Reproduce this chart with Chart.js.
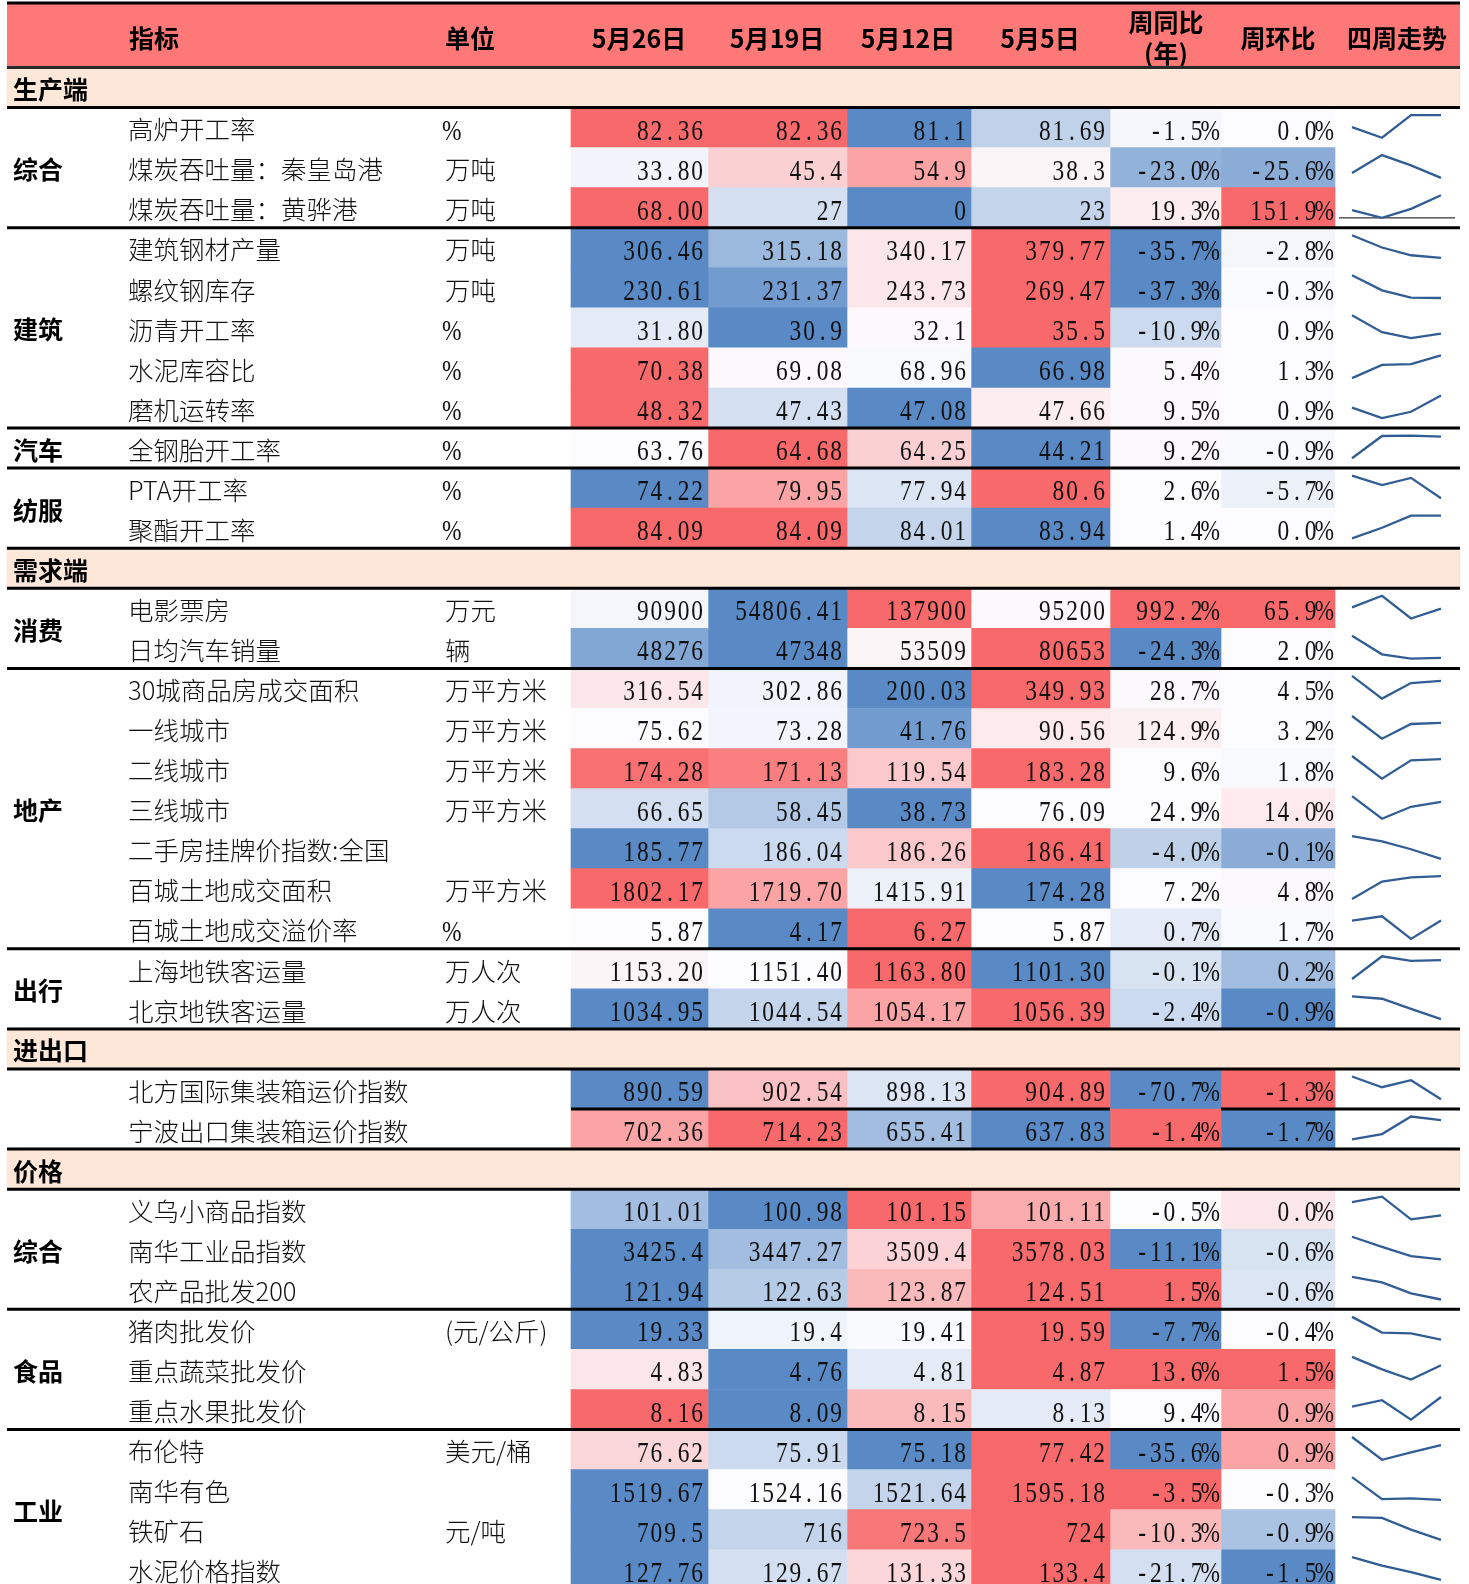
<!DOCTYPE html>
<html>
<head>
<meta charset="utf-8">
<script src="https://cdn.jsdelivr.net/npm/chart.js@4.4.1/dist/chart.umd.min.js"></script>
<style>
  html, body { margin: 0; padding: 0; background: #fff; }
  canvas { display: block; }
</style>
</head>
<body>
<canvas id="table" width="1469" height="1584"></canvas>
<script>
// ---- data ----
const headers = ['指标', '单位', '5月26日', '5月19日', '5月12日', '5月5日', '周同比', '周环比', '四周走势'];

const sectionNames = ['生产端', '需求端', '进出口', '价格'];
const sectionRows = [0, 12, 24, 27];

const groupNames = ['综合', '建筑', '汽车', '纺服', '消费', '地产', '出行', '', '综合', '食品', '工业'];
const groupSizes = [3, 5, 1, 2, 2, 7, 2, 2, 3, 3, 4];

const indicators = [
  '高炉开工率', '煤炭吞吐量：秦皇岛港', '煤炭吞吐量：黄骅港',
  '建筑钢材产量', '螺纹钢库存', '沥青开工率', '水泥库容比', '磨机运转率',
  '全钢胎开工率', 'PTA开工率', '聚酯开工率',
  '电影票房', '日均汽车销量',
  '30城商品房成交面积', '一线城市', '二线城市', '三线城市', '二手房挂牌价指数:全国', '百城土地成交面积', '百城土地成交溢价率',
  '上海地铁客运量', '北京地铁客运量',
  '北方国际集装箱运价指数', '宁波出口集装箱运价指数',
  '义乌小商品指数', '南华工业品指数', '农产品批发200',
  '猪肉批发价', '重点蔬菜批发价', '重点水果批发价',
  '布伦特', '南华有色', '铁矿石', '水泥价格指数'
];

const units = [
  '%', '万吨', '万吨',
  '万吨', '万吨', '%', '%', '%',
  '%', '%', '%',
  '万元', '辆',
  '万平方米', '万平方米', '万平方米', '万平方米', '', '万平方米', '%',
  '万人次', '万人次',
  '', '',
  '', '', '',
  '(元/公斤)', '', '',
  '美元/桶', '', '元/吨', ''
];

const may26 = ['82.36', '33.80', '68.00', '306.46', '230.61', '31.80', '70.38', '48.32', '63.76', '74.22', '84.09',
  '90900', '48276', '316.54', '75.62', '174.28', '66.65', '185.77', '1802.17', '5.87', '1153.20', '1034.95',
  '890.59', '702.36', '101.01', '3425.4', '121.94', '19.33', '4.83', '8.16', '76.62', '1519.67', '709.5', '127.76'];
const may19 = ['82.36', '45.4', '27', '315.18', '231.37', '30.9', '69.08', '47.43', '64.68', '79.95', '84.09',
  '54806.41', '47348', '302.86', '73.28', '171.13', '58.45', '186.04', '1719.70', '4.17', '1151.40', '1044.54',
  '902.54', '714.23', '100.98', '3447.27', '122.63', '19.4', '4.76', '8.09', '75.91', '1524.16', '716', '129.67'];
const may12 = ['81.1', '54.9', '0', '340.17', '243.73', '32.1', '68.96', '47.08', '64.25', '77.94', '84.01',
  '137900', '53509', '200.03', '41.76', '119.54', '38.73', '186.26', '1415.91', '6.27', '1163.80', '1054.17',
  '898.13', '655.41', '101.15', '3509.4', '123.87', '19.41', '4.81', '8.15', '75.18', '1521.64', '723.5', '131.33'];
const may05 = ['81.69', '38.3', '23', '379.77', '269.47', '35.5', '66.98', '47.66', '44.21', '80.6', '83.94',
  '95200', '80653', '349.93', '90.56', '183.28', '76.09', '186.41', '174.28', '5.87', '1101.30', '1056.39',
  '904.89', '637.83', '101.11', '3578.03', '124.51', '19.59', '4.87', '8.13', '77.42', '1595.18', '724', '133.4'];
const yoy = ['-1.5%', '-23.0%', '19.3%', '-35.7%', '-37.3%', '-10.9%', '5.4%', '9.5%', '9.2%', '2.6%', '1.4%',
  '992.2%', '-24.3%', '28.7%', '124.9%', '9.6%', '24.9%', '-4.0%', '7.2%', '0.7%', '-0.1%', '-2.4%',
  '-70.7%', '-1.4%', '-0.5%', '-11.1%', '1.5%', '-7.7%', '13.6%', '9.4%', '-35.6%', '-3.5%', '-10.3%', '-21.7%'];
const wow = ['0.0%', '-25.6%', '151.9%', '-2.8%', '-0.3%', '0.9%', '1.3%', '0.9%', '-0.9%', '-5.7%', '0.0%',
  '65.9%', '2.0%', '4.5%', '3.2%', '1.8%', '14.0%', '-0.1%', '4.8%', '1.7%', '0.2%', '-0.9%',
  '-1.3%', '-1.7%', '0.0%', '-0.6%', '-0.6%', '-0.4%', '1.5%', '0.9%', '0.9%', '-0.3%', '-0.9%', '-1.5%'];

// colour-scale position of each cell as it appears: -1 blue, 0 white, 1 red
const heat26 = [1, -0.07, 1, -1, -1, -0.15, 1, 1, 0, -1, 1, -0.05, -0.75, 0.15, 0, 0.95, -0.25, -1, 1, 0, 0.05, -1,
  -1, 0.6, -0.55, -1, -1, -1, 0.15, 1, 0.25, -1, -1, -1];
const heat19 = [1, 0.3, -0.25, -0.6, -0.85, -1, 0.03, -0.25, 1, 0.6, 1, -1, -1, -0.07, -0.06, 0.85, -0.45, -0.3, 0.6, -1, 0, -0.35,
  0.4, 1, -1, -0.55, -0.43, -0.08, -1, -1, -0.3, 0, -0.35, -0.25];
const heat12 = [-1, 0.6, -1, 0.15, 0.15, 0.03, -0.03, -1, 0.3, -0.2, -0.35, 1, 0.05, -1, -0.85, 0.35, -1, 0.35, -0.1, 1, 1, 0.6,
  -0.2, -0.55, 1, 0.28, 0.45, -0.02, -0.15, 0.45, -1, -0.35, 0.9, 0.25];
const heat05 = [-0.37, 0.05, -0.35, 1, 1, 1, -1, 0.1, -1, 1, -1, 0.03, 1, 1, 0.12, 1, 0, 1, -1, 0, -1, 1,
  1, -1, 0.55, 1, 1, 1, 1, -0.15, 1, 1, 1, 1];
const heatYoy = [-0.04, -0.65, 0.1, -1, -1, -0.3, 0.02, 0.03, 0.03, 0, 0, 1, -1, 0.02, 0.08, 0.01, 0.01, -0.38, 0, -0.15, -0.22, -0.3,
  -1, 1, 0, -1, 1, -1, 1, 0, -1, 1, 0.45, -0.25];
const heatWow = [0, -0.7, 1, -0.05, -0.01, 0, 0, 0, -0.02, -0.1, 0, 1, 0, 0, 0, -0.03, 0.12, -0.7, 0.02, -0.02, -0.55, -1,
  1, -1, 0.15, -0.22, -0.2, 0, 1, 0.6, 0.6, 0, -0.5, -1];

// ---- layout ----
const W = 1469, H = 1584;
const TOP = 67.5, ROW = 40.06;
const LEFT = 7, RIGHT = 1460;
const colEdges = [571, 708, 847, 971, 1110, 1221, 1335];
const sparkX = [1352, 1382, 1411, 1441];
const headerX = [154, 470, 639, 777, 908, 1040, 1166, 1278, 1397];
const NAME_X = 128, UNIT_X = 445, LABEL_X = 13;
const CW = 13.6;

const BOLD = 'bold 25px "Noto Sans CJK SC", sans-serif';
const NAME_FONT = '300 25.5px "Noto Sans CJK SC", sans-serif';
const NUM_FONT = '30px "Liberation Serif", serif';

const RED = [248, 105, 107], BLUE = [90, 138, 198], WHITE = [252, 252, 255];
function shade(t) {
  const end = t >= 0 ? RED : BLUE;
  const a = Math.min(1, Math.abs(t));
  const c = WHITE.map((w, k) => Math.round(w + (end[k] - w) * a));
  return `rgb(${c[0]},${c[1]},${c[2]})`;
}

// row position of every indicator, skipping the section bands
const rowOf = [];
let r = 0;
indicators.forEach(() => {
  r++;
  while (sectionRows.includes(r)) r++;
  rowOf.push(r);
});

// borders: section bands and group ends
const borders = new Set();
sectionRows.forEach(s => { if (s > 0) borders.add(s); borders.add(s + 1); });
let acc = 0;
groupSizes.forEach(n => { acc += n; borders.add(rowOf[acc - 1] + 1); });

const columns = [may26, may19, may12, may05, yoy, wow];
const heats = [heat26, heat19, heat12, heat05, heatYoy, heatWow];

const datasets = [];
datasets.push({
  type: 'bar', indexAxis: 'y', grouped: false,
  data: sectionRows.map(s => ({ x: [LEFT, RIGHT], y: s + 0.5 })),
  backgroundColor: '#FCE7D8',
  barPercentage: 1, categoryPercentage: 1, borderWidth: 0
});
columns.forEach((col, c) => {
  datasets.push({
    type: 'bar', indexAxis: 'y', grouped: false,
    data: col.map((v, i) => ({ x: [colEdges[c], colEdges[c + 1]], y: rowOf[i] + 0.5 })),
    backgroundColor: heats[c].map(shade),
    barPercentage: 1, categoryPercentage: 1, borderWidth: 0
  });
});

// four-week sparklines, oldest first
const SPARK_TOP = 7.5 / ROW, SPARK_SPAN = 22.7 / ROW;
indicators.forEach((name, i) => {
  const vals = [may05[i], may12[i], may19[i], may26[i]].map(parseFloat);
  const lo = Math.min(...vals), hi = Math.max(...vals);
  const pos = v => rowOf[i] + SPARK_TOP + SPARK_SPAN * (hi === lo ? 0.5 : (hi - v) / (hi - lo));
  datasets.push({
    type: 'line', indexAxis: 'x',
    data: vals.map((v, k) => ({ x: sparkX[k], y: pos(v) })),
    borderColor: '#315D94', borderWidth: 2.3, pointRadius: 0, tension: 0, fill: false
  });
  if (lo <= 0 && hi >= 0) {
    datasets.push({
      type: 'line', indexAxis: 'x',
      data: [{ x: colEdges[6] + 4, y: pos(0) }, { x: RIGHT - 5, y: pos(0) }],
      borderColor: '#000', borderWidth: 1, pointRadius: 0, fill: false
    });
  }
});

function drawNum(ctx, s, right, cy) {
  ctx.font = NUM_FONT;
  ctx.textAlign = 'center';
  ctx.textBaseline = 'alphabetic';
  for (let i = 0; i < s.length; i++) {
    const cx = right - (s.length - i - 0.5) * CW;
    ctx.save();
    ctx.translate(cx, cy + 10);
    ctx.scale(0.78, 1);
    ctx.fillText(s[i], 0, 0);
    ctx.restore();
  }
}

function hline(ctx, x1, x2, y, color, w) {
  ctx.strokeStyle = color;
  ctx.lineWidth = w;
  ctx.beginPath();
  ctx.moveTo(x1, y);
  ctx.lineTo(x2, y);
  ctx.stroke();
}

const tablePlugin = {
  id: 'tableText',
  beforeDatasetsDraw(chart) {
    const { ctx, scales: { y } } = chart;
    ctx.save();
    ctx.fillStyle = '#FF7878';
    ctx.fillRect(LEFT, 4, RIGHT - LEFT, y.getPixelForValue(0) - 4);
    ctx.restore();
  },
  afterDraw(chart) {
    const { ctx, scales: { y } } = chart;
    const mid = row => y.getPixelForValue(row + 0.5) + 2;
    ctx.save();
    ctx.fillStyle = '#000';

    // header
    ctx.font = BOLD;
    ctx.textAlign = 'center';
    ctx.textBaseline = 'middle';
    headers.forEach((h, k) => {
      if (h === '周同比') {
        ctx.fillText('周同比', headerX[k], 22);
        ctx.fillText('(年)', headerX[k], 53);
      } else {
        ctx.fillText(h, headerX[k], 38);
      }
    });

    // section titles
    ctx.textAlign = 'left';
    sectionNames.forEach((s, k) => ctx.fillText(s, LABEL_X, mid(sectionRows[k])));

    // group labels
    let start = 0;
    groupSizes.forEach((n, g) => {
      const first = rowOf[start], last = rowOf[start + n - 1];
      if (groupNames[g]) ctx.fillText(groupNames[g], LABEL_X, y.getPixelForValue((first + last + 1) / 2) + 2);
      start += n;
    });

    // indicator names, units, cell values
    ctx.fillStyle = '#111';
    indicators.forEach((name, i) => {
      const cy = mid(rowOf[i]);
      ctx.font = NAME_FONT;
      ctx.textAlign = 'left';
      ctx.textBaseline = 'middle';
      ctx.fillText(name, NAME_X, cy);
      const u = units[i];
      if (u === '%') {
        drawNum(ctx, u, UNIT_X + CW, cy);
      } else if (u) {
        ctx.font = NAME_FONT;
        ctx.textAlign = 'left';
        ctx.textBaseline = 'middle';
        ctx.fillText(u, UNIT_X, cy);
      }
      columns.forEach((col, c) => drawNum(ctx, col[i], colEdges[c + 1] - 4, cy));
    });

    // rules
    hline(ctx, LEFT, RIGHT, 3, '#000', 3);
    hline(ctx, LEFT, RIGHT, y.getPixelForValue(0), '#2a2a2a', 3);
    borders.forEach(b => hline(ctx, LEFT, RIGHT, y.getPixelForValue(b), '#000', 3));
    // short rule between the two freight-index rows
    const split = rowOf[indicators.indexOf('宁波出口集装箱运价指数')];
    hline(ctx, colEdges[0], colEdges[4], y.getPixelForValue(split), '#000', 3);
    hline(ctx, colEdges[5], RIGHT, y.getPixelForValue(split), '#000', 3);
    ctx.restore();
  }
};

new Chart(document.getElementById('table'), {
  type: 'bar',
  data: { datasets },
  options: {
    responsive: false,
    animation: false,
    events: [],
    layout: { padding: 0 },
    plugins: { legend: { display: false }, tooltip: { enabled: false } },
    scales: {
      x: { type: 'linear', display: false, min: 0, max: W, offset: false },
      y: {
        type: 'linear', display: false, reverse: true, offset: false,
        min: -TOP / ROW, max: (H - TOP) / ROW,
        ticks: { maxTicksLimit: 3 }
      }
    }
  },
  plugins: [tablePlugin]
});
</script>
</body>
</html>
